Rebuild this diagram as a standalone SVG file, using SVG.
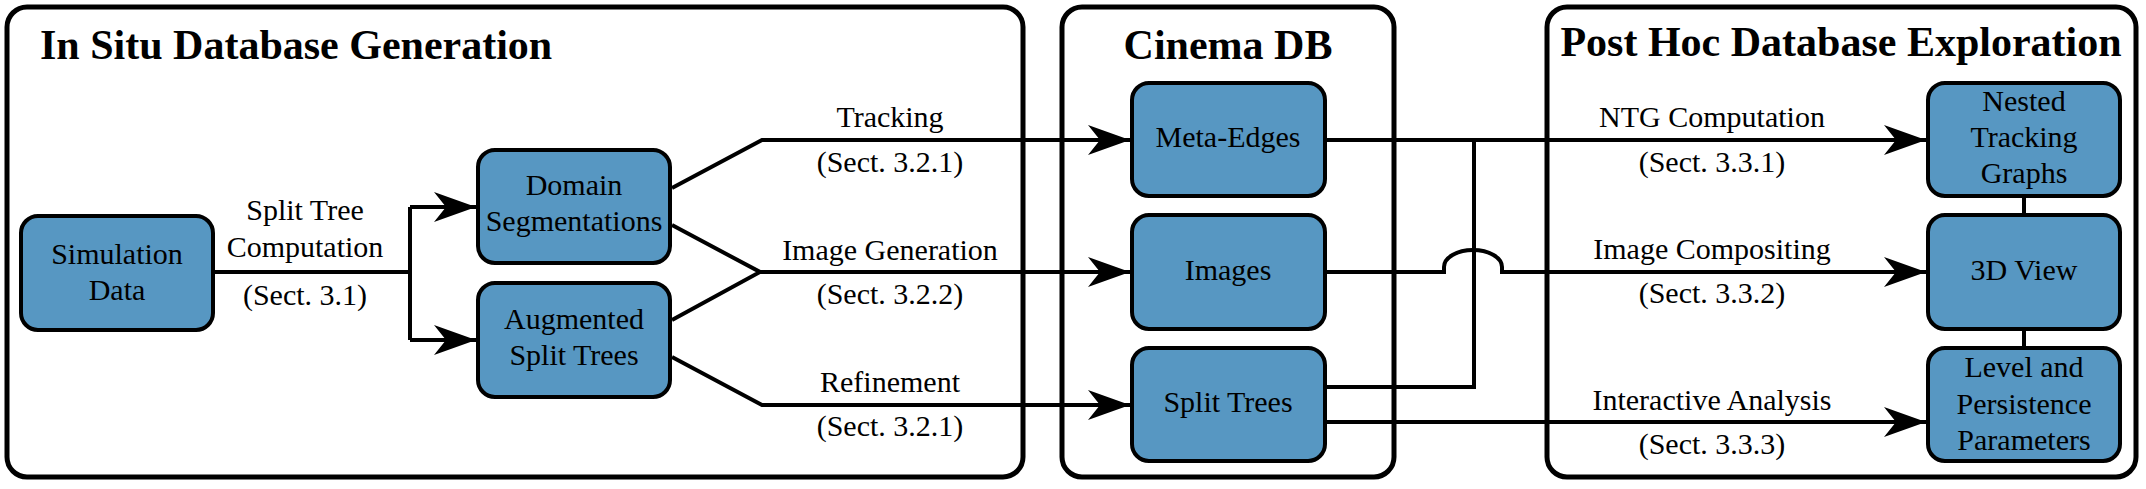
<svg xmlns="http://www.w3.org/2000/svg" width="2146" height="489" viewBox="0 0 2146 489">
<style>
.panel{fill:#ffffff;stroke:#000;stroke-width:5}
.box{fill:#5797c2;stroke:#000;stroke-width:4}
.title{font-family:"Liberation Serif","Times New Roman",serif;font-weight:bold;font-size:42px;fill:#000}
.nt{font-family:"Liberation Serif","Times New Roman",serif;font-size:30px;fill:#000;text-anchor:middle}
.lbl{font-family:"Liberation Serif","Times New Roman",serif;font-size:30px;fill:#000;text-anchor:middle}
.edge{fill:none;stroke:#000;stroke-width:4;stroke-linejoin:miter}
.arr{marker-end:url(#ah)}
</style>
<defs>
<marker id="ah" markerUnits="userSpaceOnUse" markerWidth="46" markerHeight="34" refX="42" refY="16" orient="auto">
<path d="M0,1 L42,16 L0,31 L12,16 Z" fill="#000"/>
</marker>
</defs>
<rect width="2146" height="489" fill="#fff"/>
<g id="panels">
<g id="panel-insitu">
<rect class="panel" x="7" y="7" width="1016" height="470" rx="20"/>
<text class="title" x="40" y="59">In Situ Database Generation</text>
</g>
<g id="panel-cinema">
<rect class="panel" x="1062" y="7" width="332" height="470" rx="20"/>
<text class="title" x="1228" y="59" text-anchor="middle">Cinema DB</text>
</g>
<g id="panel-posthoc">
<rect class="panel" x="1547" y="7" width="589" height="470" rx="20"/>
<text class="title" x="1841" y="56" text-anchor="middle">Post Hoc Database Exploration</text>
</g>
</g>
<g id="connectors">
<path class="edge" d="M213,272 H410 M410,207 V340"/>
<path class="edge arr" d="M410,207 H476"/>
<path class="edge arr" d="M410,340 H476"/>
<path class="edge arr" d="M672,188 L762,140 H1130"/>
<path class="edge" d="M672,225 L760,272 L672,320"/>
<path class="edge arr" d="M760,272 H1130"/>
<path class="edge arr" d="M672,357 L762,405 H1130"/>
<path class="edge arr" d="M1325,140 H1926"/>
<path class="edge arr" d="M1325,272 H1444 V267 A29,17 0 0 1 1502,267 V272 H1926"/>
<path class="edge" d="M1325,387 H1474 V140"/>
<path class="edge arr" d="M1325,422 H1926"/>
<path class="edge" d="M2024,196 V215 M2024,329 V348"/>
<text class="lbl" x="305" y="220">Split Tree</text>
<text class="lbl" x="305" y="257">Computation</text>
<text class="lbl" x="305" y="305">(Sect. 3.1)</text>
<text class="lbl" x="890" y="127">Tracking</text>
<text class="lbl" x="890" y="172">(Sect. 3.2.1)</text>
<text class="lbl" x="890" y="260">Image Generation</text>
<text class="lbl" x="890" y="304">(Sect. 3.2.2)</text>
<text class="lbl" x="890" y="392">Refinement</text>
<text class="lbl" x="890" y="436">(Sect. 3.2.1)</text>
<text class="lbl" x="1712" y="127">NTG Computation</text>
<text class="lbl" x="1712" y="172">(Sect. 3.3.1)</text>
<text class="lbl" x="1712" y="259">Image Compositing</text>
<text class="lbl" x="1712" y="303">(Sect. 3.3.2)</text>
<text class="lbl" x="1712" y="410">Interactive Analysis</text>
<text class="lbl" x="1712" y="454">(Sect. 3.3.3)</text>
</g>
<g id="node-simulation">
<rect class="box" x="21" y="216" width="192" height="114" rx="17"/>
<text class="nt" x="117" y="264">Simulation</text>
<text class="nt" x="117" y="300">Data</text>
</g>
<g id="node-domain">
<rect class="box" x="478" y="150" width="192" height="113" rx="17"/>
<text class="nt" x="574" y="195">Domain</text>
<text class="nt" x="574" y="231">Segmentations</text>
</g>
<g id="node-augmented">
<rect class="box" x="478" y="283" width="192" height="114" rx="17"/>
<text class="nt" x="574" y="329">Augmented</text>
<text class="nt" x="574" y="365">Split Trees</text>
</g>
<g id="node-metaedges">
<rect class="box" x="1132" y="83" width="193" height="113" rx="17"/>
<text class="nt" x="1228" y="147">Meta-Edges</text>
</g>
<g id="node-images">
<rect class="box" x="1132" y="215" width="193" height="114" rx="17"/>
<text class="nt" x="1228" y="280">Images</text>
</g>
<g id="node-splittrees">
<rect class="box" x="1132" y="348" width="193" height="113" rx="17"/>
<text class="nt" x="1228" y="412">Split Trees</text>
</g>
<g id="node-ntg">
<rect class="box" x="1928" y="83" width="192" height="113" rx="17"/>
<text class="nt" x="2024" y="111">Nested</text>
<text class="nt" x="2024" y="147">Tracking</text>
<text class="nt" x="2024" y="183">Graphs</text>
</g>
<g id="node-3dview">
<rect class="box" x="1928" y="215" width="192" height="114" rx="17"/>
<text class="nt" x="2024" y="280">3D View</text>
</g>
<g id="node-level">
<rect class="box" x="1928" y="348" width="192" height="113" rx="17"/>
<text class="nt" x="2024" y="377">Level and</text>
<text class="nt" x="2024" y="414">Persistence</text>
<text class="nt" x="2024" y="450">Parameters</text>
</g>
</svg>
